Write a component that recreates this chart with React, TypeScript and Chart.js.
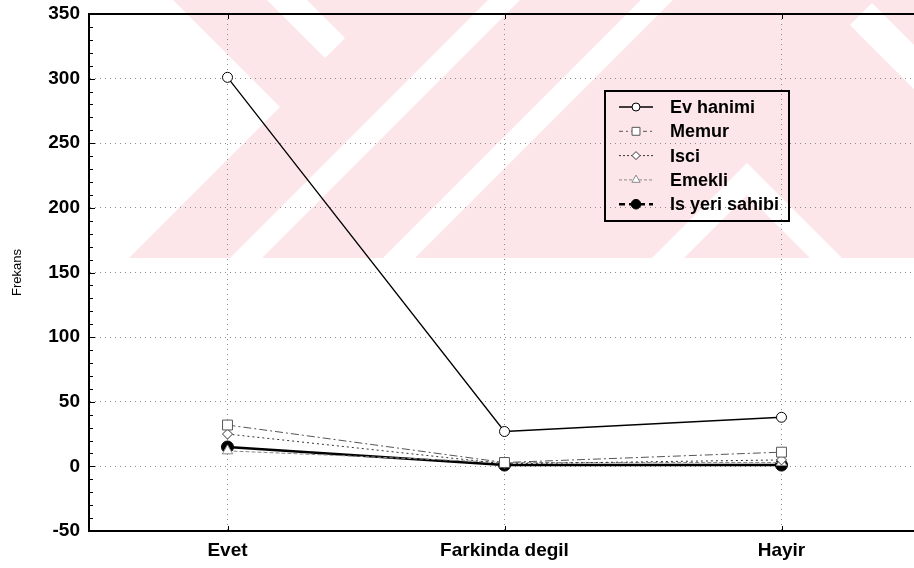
import React, { useEffect, useRef } from "react";
import { Chart, registerables } from "chart.js";

Chart.register(...registerables);

// ---- data ----
const categories = ["Evet", "Farkinda degil", "Hayir"];
const seriesNames = ["Ev hanimi", "Memur", "Isci", "Emekli", "Is yeri sahibi"];
const evHanimi = [301, 27, 38];
const memur = [32, 3, 11];
const isci = [25, 2, 5];
const emekli = [12, 3, 3];
const isYeriSahibi = [15, 1, 1];
const yTicks = [-50, 0, 50, 100, 150, 200, 250, 300, 350];
const yTitle = "Frekans";

const seriesValues = [evHanimi, memur, isci, emekli, isYeriSahibi];

// ---- styles ----
const FONT = "'Liberation Sans', Arial, Helvetica, sans-serif";
type SStyle = {
  color: string;
  width: number;
  dash: number[];
  point: string;
  radius: number;
  fill: string;
  legendDash: number[];
  legendWidth: number;
};
const seriesStyles: SStyle[] = [
  { color: "#000", width: 1.3, dash: [], point: "circle", radius: 5, fill: "#fff", legendDash: [], legendWidth: 1.3 },
  { color: "#555", width: 1, dash: [8, 3, 2, 3], point: "rect", radius: 7, fill: "#fff", legendDash: [4, 3, 2, 3], legendWidth: 1 },
  { color: "#333", width: 1, dash: [2, 3], point: "rectRot", radius: 5, fill: "#fff", legendDash: [2, 2], legendWidth: 1 },
  { color: "#8a8a8a", width: 1, dash: [4, 2], point: "triangle", radius: 6, fill: "#fff", legendDash: [3, 2], legendWidth: 1 },
  { color: "#000", width: 2.5, dash: [], point: "circle", radius: 6, fill: "#000", legendDash: [6, 4], legendWidth: 2.5 },
];

function drawMarker(
  ctx: CanvasRenderingContext2D,
  style: string,
  x: number,
  y: number,
  r: number,
  fill: string,
  stroke: string,
  lw: number
) {
  ctx.save();
  ctx.setLineDash([]);
  ctx.beginPath();
  if (style === "circle") {
    ctx.arc(x, y, r, 0, Math.PI * 2);
  } else if (style === "rect") {
    const s = r * Math.SQRT1_2;
    ctx.rect(x - s, y - s, 2 * s, 2 * s);
  } else if (style === "rectRot") {
    ctx.moveTo(x, y - r);
    ctx.lineTo(x + r, y);
    ctx.lineTo(x, y + r);
    ctx.lineTo(x - r, y);
    ctx.closePath();
  } else {
    const h = r * 1.5;
    ctx.moveTo(x, y - r);
    ctx.lineTo(x + h * 0.577, y + r * 0.5);
    ctx.lineTo(x - h * 0.577, y + r * 0.5);
    ctx.closePath();
  }
  ctx.fillStyle = fill;
  ctx.fill();
  ctx.lineWidth = lw;
  ctx.strokeStyle = stroke;
  ctx.stroke();
  ctx.restore();
}

// background watermark (decoration)
const watermarkPlugin = {
  id: "watermark",
  beforeDraw(chart: any) {
    const ctx: CanvasRenderingContext2D = chart.ctx;
    const poly = (pts: number[][], color: string) => {
      ctx.beginPath();
      ctx.moveTo(pts[0][0], pts[0][1]);
      for (let i = 1; i < pts.length; i++) ctx.lineTo(pts[i][0], pts[i][1]);
      ctx.closePath();
      ctx.fillStyle = color;
      ctx.fill();
    };
    ctx.save();
    ctx.beginPath();
    ctx.rect(0, 0, 914, 258);
    ctx.clip();
    const pink = "#fde6e9";
    poly([[173, 0], [930, 0], [930, 258], [129, 258], [280, 107]], pink);
    const w = "#ffffff";
    poly([[267, 0], [307, 0], [345, 38], [325, 58]], w);
    poly([[230, 258], [262, 258], [520, 0], [488, 0]], w);
    poly([[383, 258], [415, 258], [673, 0], [641, 0]], w);
    poly([[652, 258], [747, 163], [842, 258], [810, 258], [747, 195], [684, 258]], w);
    poly([[850, 25], [872, 3], [930, 61], [930, 105]], w);
    ctx.restore();
  },
};

const framePlugin = {
  id: "frame",
  beforeDatasetsDraw(chart: any) {
    const ctx: CanvasRenderingContext2D = chart.ctx;
    const { left, right, top, bottom } = chart.chartArea;
    const y = chart.scales.y;
    const x = chart.scales.x;
    ctx.save();
    ctx.strokeStyle = "#000";
    ctx.setLineDash([]);
    // top border
    ctx.lineWidth = 2;
    ctx.beginPath();
    ctx.moveTo(left - 1, top);
    ctx.lineTo(right, top);
    ctx.stroke();
    // minor/major ticks on y axis (inside)
    ctx.lineWidth = 1;
    for (let v = y.min; v <= y.max; v += 10) {
      const py = Math.round(y.getPixelForValue(v)) + 0.5;
      const len = v % 50 === 0 ? 6 : 4;
      ctx.beginPath();
      ctx.moveTo(left, py);
      ctx.lineTo(left + len, py);
      ctx.stroke();
    }
    // category ticks
    for (let i = 0; i < categories.length; i++) {
      const px = Math.round(x.getPixelForValue(i)) + 0.5;
      ctx.beginPath();
      ctx.moveTo(px, bottom);
      ctx.lineTo(px, bottom - 5);
      ctx.moveTo(px, top);
      ctx.lineTo(px, top + 5);
      ctx.stroke();
    }
    ctx.restore();
  },
};

const legendPlugin = {
  id: "boxLegend",
  afterDatasetsDraw(chart: any) {
    const ctx: CanvasRenderingContext2D = chart.ctx;
    const bx = 605, by = 91, bw = 184, bh = 130;
    ctx.save();
    ctx.setLineDash([]);
    ctx.lineWidth = 2;
    ctx.strokeStyle = "#000";
    ctx.strokeRect(bx, by, bw, bh);
    chart.data.datasets.forEach((ds: any, i: number) => {
      const st = seriesStyles[i];
      const cy = by + 16 + i * 24.3;
      ctx.save();
      ctx.strokeStyle = st.color;
      ctx.lineWidth = st.legendWidth;
      ctx.setLineDash(st.legendDash);
      ctx.beginPath();
      ctx.moveTo(619, cy);
      ctx.lineTo(653, cy);
      ctx.stroke();
      ctx.restore();
      drawMarker(ctx, st.point, 636, cy, st.radius * 0.8, st.fill, st.color, 1);
      ctx.fillStyle = "#000";
      ctx.font = `bold 18px ${FONT}`;
      ctx.textBaseline = "middle";
      ctx.textAlign = "left";
      ctx.fillText(ds.label, 670, cy + 1);
    });
    ctx.restore();
  },
};

export default function App() {
  const ref = useRef<HTMLCanvasElement>(null);
  useEffect(() => {
    const canvas = ref.current;
    if (!canvas) return;
    const datasets = seriesNames.map((name, i) => {
      const st = seriesStyles[i];
      return {
        label: name,
        data: seriesValues[i],
        borderColor: st.color,
        borderWidth: st.width,
        borderDash: st.dash,
        backgroundColor: st.fill,
        pointStyle: st.point,
        pointRadius: st.radius,
        pointBackgroundColor: st.fill,
        pointBorderColor: st.color,
        pointBorderWidth: 1,
        tension: 0,
        fill: false,
      };
    });
    const chart = new Chart(canvas, {
      type: "line",
      data: { labels: categories, datasets },
      options: {
        responsive: false,
        animation: false,
        devicePixelRatio: 1,
        events: [],
        layout: { padding: { left: 0, top: 14, right: 10, bottom: 0 } },
        plugins: {
          legend: { display: false },
          tooltip: { enabled: false },
        },
        scales: {
          x: {
            type: "category",
            offset: true,
            grid: { offset: false, color: "#8a8a8a", lineWidth: 1, drawTicks: false },
            border: { display: true, color: "#000", width: 2, dash: [1, 4] },
            ticks: {
              color: "#000",
              font: { family: FONT, size: 19, weight: "bold" },
              padding: 8,
              maxRotation: 0,
              autoSkip: false,
            },
            afterFit: (s: any) => {
              s.height = 37;
              s.paddingLeft = 0;
              s.paddingRight = 0;
            },
          },
          y: {
            type: "linear",
            min: -50,
            max: 350,
            grid: { color: "#8a8a8a", lineWidth: 1, drawTicks: false },
            border: { display: true, color: "#000", width: 2, dash: [1, 4] },
            ticks: {
              color: "#000",
              font: { family: FONT, size: 19, weight: "bold" },
              padding: 9,
            },
            afterBuildTicks: (s: any) => {
              s.ticks = yTicks.map((v) => ({ value: v }));
            },
            afterFit: (s: any) => {
              s.width = 89;
              s.paddingTop = 0;
              s.paddingBottom = 0;
            },
            title: {
              display: true,
              text: yTitle,
              color: "#000",
              font: { family: FONT, size: 13 },
              padding: { top: 10, bottom: 0 },
            },
          },
        },
      } as any,
      plugins: [watermarkPlugin, framePlugin, legendPlugin],
    });
    return () => chart.destroy();
  }, []);

  return (
    <div
      style={{
        position: "fixed",
        left: 0,
        top: 0,
        width: 914,
        height: 568,
        overflow: "hidden",
        background: "#fff",
      }}
    >
      <canvas ref={ref} width={930} height={568} style={{ display: "block", width: 930, height: 568 }} />
    </div>
  );
}
